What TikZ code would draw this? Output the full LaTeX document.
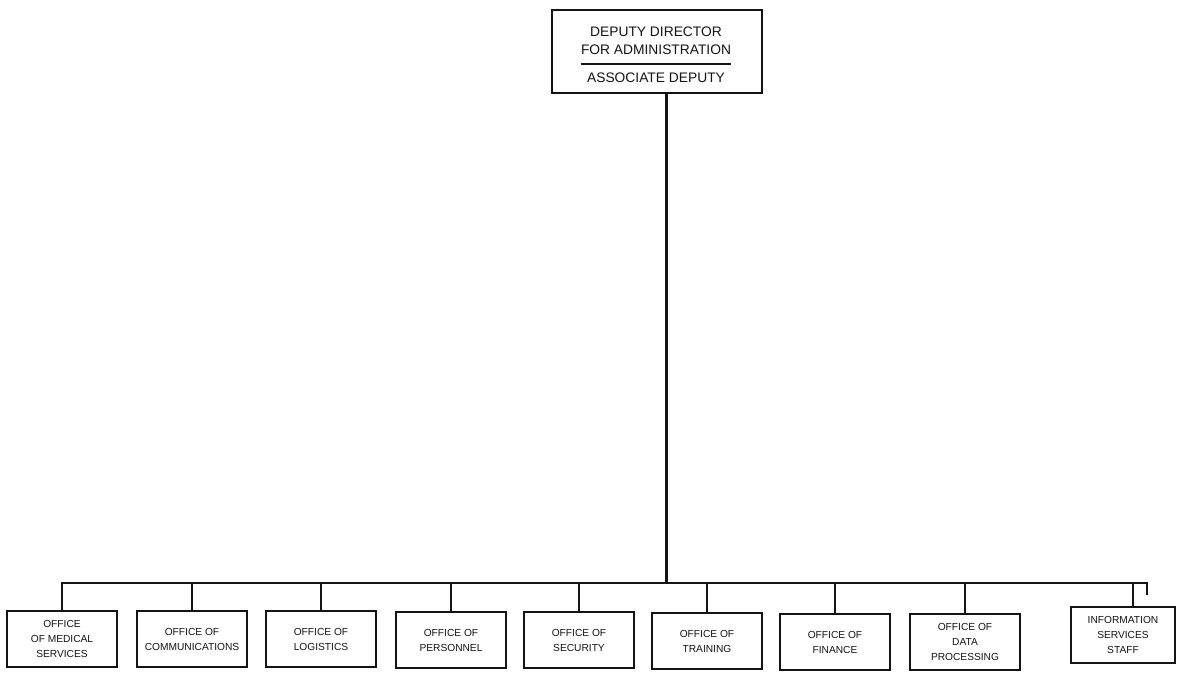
\documentclass[tikz,border=0pt]{standalone}
\usepackage{fontspec}
\setsansfont{Liberation Sans}
\usepackage{tikz}
\usetikzlibrary{calc}
\definecolor{ChartInk}{HTML}{141414}
\tikzset{
  topbox/.style={draw=ChartInk,line width=1.6pt,minimum width=210pt,minimum height=83pt,inner sep=0pt},
  toptext/.style={align=center,inner sep=0pt,font=\fontsize{13.8}{18}\selectfont\sffamily,text=ChartInk},
  officebox/.style={draw=ChartInk,line width=1.5pt,minimum width=110pt,minimum height=56pt,
    align=center,inner sep=2pt,font=\fontsize{10.2}{15}\selectfont\sffamily,text=ChartInk},
  trunk/.style={draw=ChartInk,line width=3pt},
  bus/.style={draw=ChartInk,line width=2.8pt,line join=miter},
  drop/.style={draw=ChartInk,line width=2.5pt}
}

\begin{document}
\begin{tikzpicture}[x=1pt,y=-1pt]
  \useasboundingbox[fill=white] (0,0) rectangle (1186,672);

  % deputy director
  \node[topbox] (dda) at (657,51.5) {};
  \node[toptext] (ddatitle) at (656,41) {DEPUTY DIRECTOR\\FOR ADMINISTRATION};
  \node[toptext] (assoc) at (656,78) {ASSOCIATE DEPUTY};
  \draw[ChartInk,line width=1.4pt] ([yshift=-9pt]ddatitle.south west) -- ([yshift=-9pt]ddatitle.south east);

  % offices
  \node[officebox] (medical) at (62,639) {OFFICE\\OF MEDICAL\\SERVICES};
  \node[officebox] (comms) at (192,639) {OFFICE OF\\COMMUNICATIONS};
  \node[officebox] (logistics) at (321,639) {OFFICE OF\\LOGISTICS};
  \node[officebox] (personnel) at (451,640) {OFFICE OF\\PERSONNEL};
  \node[officebox] (security) at (579,640) {OFFICE OF\\SECURITY};
  \node[officebox] (training) at (707,641) {OFFICE OF\\TRAINING};
  \node[officebox] (finance) at (835,642) {OFFICE OF\\FINANCE};
  \node[officebox] (dataproc) at (965,642) {OFFICE OF\\DATA\\PROCESSING};
  \node[officebox,minimum width=104pt] (infostaff) at (1123,635) {INFORMATION\\SERVICES\\STAFF};

  % bus and drops
  \coordinate (busright) at (1147,583);
  \coordinate (busend) at (1147,595);
  \draw[bus] (medical.north) -- (medical.north |- busright) -- (busright) -- (busend);
  \draw[trunk] ([xshift=9pt]dda.south) -- ([xshift=9pt]dda.south |- busright);
  \draw[drop] (comms.north |- busright) -- (comms.north);
  \draw[drop] (logistics.north |- busright) -- (logistics.north);
  \draw[drop] (personnel.north |- busright) -- (personnel.north);
  \draw[drop] (security.north |- busright) -- (security.north);
  \draw[drop] (training.north |- busright) -- (training.north);
  \draw[drop] (finance.north |- busright) -- (finance.north);
  \draw[drop] (dataproc.north |- busright) -- (dataproc.north);
  \draw[drop] ([xshift=10pt]infostaff.north |- busright) -- ([xshift=10pt]infostaff.north);
\end{tikzpicture}
\end{document}
